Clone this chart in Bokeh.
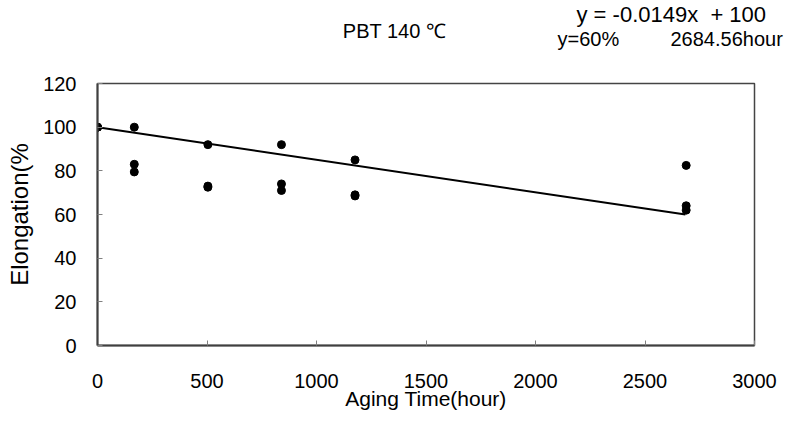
from bokeh.plotting import figure
from bokeh.models import Label, Range1d, FixedTicker
from bokeh.layouts import column
from bokeh.embed import file_html
from bokeh.resources import INLINE

hours = [0, 0, 0, 168, 168, 168, 504, 504, 504, 840, 840, 840, 1176, 1176, 1176, 2688, 2688, 2688]
elongation = [100, 100, 100, 100, 83, 79.5, 92, 73, 72.5, 92, 74, 71, 85, 69, 68.5, 82.5, 64, 62]

slope = -0.0149
intercept = 100
fit_x = [0, 2684.56]
fit_y = [intercept + slope * x for x in fit_x]

x_ticks = [0, 500, 1000, 1500, 2000, 2500, 3000]
y_ticks = [0, 20, 40, 60, 80, 100, 120]

title_text = "PBT 140 \u2103"
eq_text = "y = -0.0149x \u00a0+ 100"
target_text = "y=60%"
hours_text = "2684.56hour"

FONT = "Liberation Sans"
FS = "20px"
LEFT = 97
FRAME_W = 657
RIGHT = 30
W = LEFT + FRAME_W + RIGHT
TOP_H = 70

# header strip with the title and the trend-line equation (x in page pixels)
top = figure(frame_width=FRAME_W + RIGHT, frame_height=TOP_H, output_backend="svg",
             toolbar_location=None,
             x_range=Range1d(LEFT, W), y_range=Range1d(TOP_H, 0),
             x_axis_type=None, y_axis_type=None,
             min_border_left=LEFT, min_border_right=0, min_border_top=0, min_border_bottom=0)
top.outline_line_color = None
top.xgrid.visible = False
top.ygrid.visible = False

def add_label(x, y, text, align="center", size=FS):
    top.add_layout(Label(x=x, y=y, text=text, text_font=FONT, text_font_size=size,
                         text_color="black", text_align=align, text_baseline="middle"))

add_label(394, 30, title_text)
add_label(576, 14, eq_text, align="left", size="22px")
add_label(557, 38, target_text, align="left")
add_label(670, 38, hours_text, align="left")

p = figure(output_backend="svg", toolbar_location=None,
           x_range=Range1d(0, 3000), y_range=Range1d(0, 120),
           frame_width=FRAME_W, frame_height=262,
           min_border_left=LEFT, min_border_top=83 - TOP_H, min_border_right=RIGHT,
           min_border_bottom=10)
p.background_fill_color = "white"
p.border_fill_color = "white"
p.outline_line_color = "#444444"
p.outline_line_width = 1.5
p.xgrid.visible = False
p.ygrid.visible = False

p.line(fit_x, fit_y, line_color="black", line_width=2)
p.scatter(hours, elongation, size=8, color="black")

for ax in (p.xaxis[0], p.yaxis[0]):
    ax.major_label_text_font = FONT
    ax.major_label_text_font_size = FS
    ax.major_label_text_color = "black"
    ax.axis_label_text_font = FONT
    ax.axis_label_text_font_style = "normal"
    ax.axis_label_text_color = "black"
    ax.axis_line_color = "#404040"
    ax.axis_line_width = 2
    ax.major_tick_in = 5
    ax.major_tick_out = 0
    ax.major_tick_line_color = "#808080"
    ax.minor_tick_line_color = None

p.xaxis.ticker = FixedTicker(ticks=x_ticks)
p.yaxis.ticker = FixedTicker(ticks=y_ticks)
p.xaxis.axis_label = "Aging Time(hour)"
p.yaxis.axis_label = "Elongation(%"
p.xaxis[0].axis_label_text_font_size = "21px"
p.yaxis[0].axis_label_text_font_size = "24px"
p.xaxis.major_label_standoff = 28
p.yaxis.major_label_standoff = 21
p.xaxis.axis_label_standoff = -4
p.yaxis.axis_label_standoff = 7

layout = column(top, p, spacing=0)
open("out.html", "w").write(file_html(layout, INLINE))
